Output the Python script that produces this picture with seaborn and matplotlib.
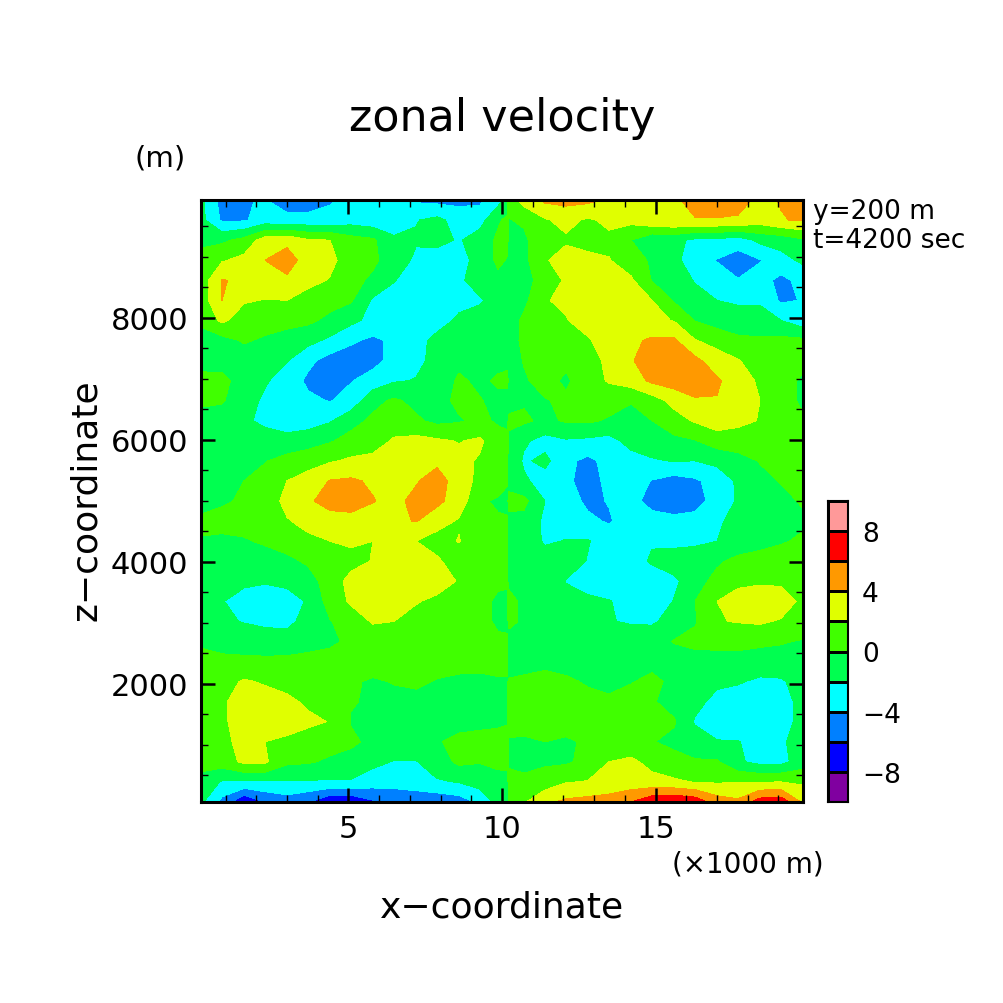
import numpy as np
import matplotlib
matplotlib.use("Agg")
import matplotlib.pyplot as plt
from matplotlib.colors import ListedColormap
import seaborn as sns

x_m = [200, 884, 1600, 2284, 2999, 3684, 4400, 5084, 5800, 6484, 7200, 7884, 8600, 9284, 9870, 10163,
       10228, 10716, 11400, 12084, 12800, 13484, 14200, 14884, 15600, 16284, 17000, 17684, 18400, 19084, 19800]
z_m = [9934, 9605, 9276, 8947, 8618, 8289, 7960, 7631, 7302, 6973, 6645, 6316, 5987, 5658, 5329, 5000,
       4671, 4342, 4013, 3684, 3355, 3026, 2697, 2368, 2040, 1711, 1382, 1053, 724, 395, 65]

# top row first
u = [
    [-1.5, -4.8, -4.1, -3.9, -5.0, -5.0, -4.2, -3.4, -3.2, -3.4, -4.3, -4.6, -4.6, -4.4, -2.8, -1.0, 0.8, 2.8, 4.4, 4.6, 4.5, 3.6, 3.0, 3.3, 3.7, 4.6, 4.8, 4.6, 3.6, 4.1, 4.8],
    [-1.4, -4.3, -4.2, -3.2, -3.4, -3.4, -3.4, -2.9, -3.3, -3.0, -2.1, -1.5, -2.8, -2.8, -0.2, 0.3, -0.1, 0.3, 1.8, 2.6, 1.7, 2.5, 2.6, 3.6, 3.9, 3.9, 3.9, 3.8, 3.0, 3.9, 4.2],
    [-0.4, -0.4, 0.6, 3.0, 3.4, 2.2, 2.0, 0.8, 0.3, -1.7, -1.8, -1.4, -2.2, -1.0, 0.3, 0.5, -0.4, -0.4, 1.6, 1.7, 0.8, 1.5, 0.0, -1.6, -1.5, -2.4, -2.5, -3.0, -1.5, -1.2, -0.3],
    [0.6, 1.8, 2.6, 4.0, 5.0, 3.0, 2.4, 1.2, 0.3, -0.8, -2.4, -3.0, -2.7, -1.3, 0.4, -0.1, -0.5, -0.5, 1.8, 2.9, 2.9, 2.1, 0.9, -0.3, -1.5, -3.0, -4.1, -5.0, -4.1, -2.7, -1.6],
    [0.8, 4.1, 3.7, 3.6, 3.6, 2.5, 1.9, 0.5, -0.3, -1.9, -3.0, -3.3, -2.3, -1.2, -0.5, -0.7, -0.8, -0.6, 0.7, 2.3, 3.0, 3.0, 2.3, -0.1, -1.2, -2.1, -3.0, -3.9, -3.3, -4.5, -3.4],
    [0.9, 4.0, 2.2, 1.9, 2.0, 1.3, 0.7, 0.2, -2.3, -2.8, -3.4, -3.2, -2.5, -2.2, -1.3, -1.2, -1.2, -0.5, 1.9, 2.3, 2.8, 3.0, 3.0, 2.0, -0.2, -1.5, -2.0, -2.2, -2.2, -4.3, -3.9],
    [0.4, 2.4, 1.0, 0.9, 0.6, 0.4, -0.5, -1.5, -2.6, -3.2, -3.2, -2.7, -1.7, -1.3, -1.1, -1.2, -1.0, 0.4, 0.7, 1.9, 2.8, 3.0, 3.2, 2.5, 1.9, -0.1, -0.9, -1.4, -1.4, -2.0, -3.3],
    [-0.8, -0.7, 0.2, -0.3, -0.8, -1.4, -2.4, -3.7, -4.4, -3.6, -2.6, -1.5, -1.0, -0.8, -0.6, -0.7, -0.6, 0.3, 0.6, 0.9, 1.8, 3.0, 3.6, 4.3, 4.3, 2.1, 1.3, 0.5, 0.3, 0.5, 0.4],
    [-0.5, -0.8, -1.0, -1.3, -1.9, -3.5, -4.8, -5.0, -4.6, -3.4, -2.5, -1.4, -0.5, -0.3, -0.6, -0.4, -0.8, 0.1, 0.6, 0.4, 1.3, 2.4, 3.9, 4.6, 5.0, 4.5, 2.9, 2.1, 1.2, 0.6, 0.5],
    [0.4, 0.5, -0.8, -1.8, -2.8, -4.4, -4.8, -4.1, -3.2, -2.2, -1.9, -1.3, 0.3, -0.4, 0.3, 0.4, -0.2, -0.2, 0.6, -0.3, 1.1, 2.2, 3.0, 4.4, 5.0, 5.0, 4.3, 2.9, 1.7, 0.8, -0.3],
    [0.3, 0.2, -1.3, -2.3, -3.1, -3.6, -4.1, -3.3, -0.6, 0.3, -0.5, -0.8, 0.5, 0.1, -0.5, -0.6, -0.6, -0.2, -0.1, 0.3, 1.0, 0.7, 0.1, 1.1, 2.6, 3.8, 3.9, 3.2, 2.0, 0.9, -0.4],
    [-0.6, -1.0, -1.7, -2.4, -3.2, -2.9, -2.2, -0.7, 0.4, 1.1, 0.3, -0.5, -0.2, 0.5, -0.3, -0.4, 0.3, 0.3, -0.4, 0.2, 0.3, -0.2, -0.5, 0.0, 1.2, 2.2, 3.0, 2.5, 1.9, 0.8, 0.3],
    [-0.7, -0.9, -1.1, -1.2, -1.2, -0.9, -0.2, 0.7, 1.2, 2.2, 2.6, 2.3, 1.9, 2.3, 0.9, 0.5, -0.3, -1.7, -2.7, -2.2, -2.4, -2.7, -1.3, -0.9, -0.5, -0.1, 1.0, 1.0, 0.9, 0.9, 0.7],
    [-0.8, -0.7, -0.5, -0.1, 0.6, 1.2, 1.8, 2.3, 2.5, 2.6, 2.9, 3.5, 2.5, 1.8, 1.9, 0.3, -0.4, -2.3, -1.5, -3.5, -4.5, -3.3, -2.8, -2.2, -1.9, -2.0, -1.5, -0.7, 0.1, 0.5, 0.8],
    [-0.7, -0.4, 0.0, 0.7, 2.0, 2.8, 4.1, 4.3, 3.7, 2.9, 3.8, 5.0, 2.9, 1.5, 2.0, 0.2, -0.7, -1.7, -2.8, -3.6, -4.8, -3.5, -3.0, -4.1, -4.8, -4.3, -3.2, -1.7, -0.5, 0.1, 0.8],
    [-0.6, -0.2, 0.2, 1.2, 2.4, 3.6, 5.0, 5.3, 4.1, 3.4, 4.6, 4.5, 3.0, 0.5, -0.5, -0.5, 0.6, 0.5, -2.0, -3.1, -4.4, -3.9, -3.2, -4.9, -5.3, -4.9, -3.1, -1.8, -0.7, -0.5, 0.2],
    [0.3, 0.5, 0.8, 1.3, 1.9, 2.4, 2.9, 3.0, 3.0, 3.6, 4.1, 2.8, 1.8, 1.0, 0.4, 0.2, -0.5, -0.6, -2.4, -3.0, -3.6, -4.2, -3.0, -3.0, -3.4, -3.2, -2.4, -1.2, -0.8, -0.6, -0.3],
    [-0.1, -0.3, -0.2, 0.3, 0.9, 1.7, 2.0, 2.3, 2.0, 2.3, 2.0, 1.2, 2.1, 0.4, 0.4, 0.2, -0.3, -0.6, -2.3, -1.9, -1.9, -2.8, -3.0, -2.2, -2.5, -2.4, -2.0, -1.2, -0.7, -0.2, 0.3],
    [-0.9, -1.1, -1.2, -1.0, -0.5, 0.3, 0.7, 1.4, 2.1, 2.9, 2.6, 2.3, 1.0, 0.5, 0.3, 0.2, -0.3, -0.5, -0.9, -1.1, -2.1, -2.9, -3.0, -1.7, -1.1, -0.9, -0.3, 0.5, 0.8, 1.0, 1.1],
    [-0.5, -1.2, -1.6, -1.8, -1.5, -0.9, 1.0, 2.6, 2.9, 3.2, 3.0, 3.2, 1.8, 0.3, 0.3, 0.2, -0.3, -0.3, -0.6, -2.1, -2.8, -3.4, -3.5, -3.3, -2.4, -0.8, 0.6, 1.5, 1.7, 1.6, 1.2],
    [-1.2, -1.9, -2.8, -3.2, -2.9, -1.8, 0.8, 2.3, 3.1, 3.3, 2.2, 1.4, 0.8, 0.5, -0.3, -0.3, 0.4, -0.3, -0.8, -1.2, -1.6, -1.9, -2.7, -3.5, -1.9, 0.0, 2.0, 2.9, 3.3, 3.1, 1.5],
    [-1.4, -1.7, -2.1, -2.4, -2.6, -1.2, -0.1, 0.9, 2.2, 2.0, 1.0, 0.8, 0.6, 0.4, -0.2, -0.3, 0.3, -0.2, -0.8, -1.0, -1.3, -1.9, -2.2, -2.3, -1.2, -0.2, 1.9, 2.1, 2.3, 1.8, 0.8],
    [-0.3, -0.8, -0.9, -1.1, -1.0, -0.6, -0.3, 0.3, 0.7, 0.7, 0.6, 0.5, 0.4, 0.3, 0.2, 0.2, -0.5, -0.6, -0.7, -0.8, -0.8, -0.8, -0.9, -0.7, 0.1, 0.6, 0.7, 0.6, 0.3, 0.1, -0.1],
    [0.6, 0.5, 0.4, 0.4, 0.4, 0.5, 0.6, 0.7, 0.8, 0.8, 0.7, 0.6, 0.5, 0.4, 0.3, 0.3, -0.5, -0.4, -0.4, -0.7, -0.8, -0.7, -0.5, -0.5, -0.9, -0.9, -0.9, -0.7, -0.7, -0.5, -0.4],
    [0.9, 1.3, 2.2, 1.8, 1.2, 1.0, 0.7, 0.2, -0.2, 0.1, 0.3, -0.1, -0.3, -0.3, -0.1, -0.1, 0.1, 0.2, 0.5, 0.3, -0.2, -0.5, -0.1, 0.4, -0.4, -1.2, -1.6, -1.8, -2.4, -2.3, -1.0],
    [1.0, 1.8, 2.6, 2.8, 2.5, 1.6, 0.9, 0.1, -0.2, -0.5, -0.5, -0.7, -0.7, -0.6, -0.5, -0.6, 1.0, 0.9, 0.8, 0.8, 0.5, 0.3, 0.7, 0.2, -0.8, -1.4, -2.6, -3.0, -3.2, -3.0, -1.2],
    [1.0, 1.7, 2.8, 3.0, 2.9, 2.5, 1.9, -0.1, -0.4, -0.6, -0.6, -0.6, -0.4, -0.3, -0.2, -0.1, 1.2, 1.0, 0.9, 0.9, 1.0, 1.0, 0.8, 0.3, 0.2, -2.2, -3.0, -3.4, -3.5, -3.0, -1.2],
    [0.9, 1.5, 2.6, 2.0, 1.6, 0.9, 0.7, 0.3, -0.4, -0.5, -0.6, -0.1, 0.3, 0.4, 0.4, 0.5, -0.3, -0.4, 0.0, -0.3, 0.3, 0.5, 0.7, 0.1, -0.5, -1.1, -1.9, -1.9, -2.9, -2.3, -1.1],
    [0.5, 1.0, 2.4, 2.3, 0.4, 0.2, -0.3, -0.6, -1.5, -2.1, -2.1, -1.0, 0.4, 0.1, 0.4, 0.3, -0.2, -0.4, -0.3, -0.3, 0.6, 2.0, 2.4, 1.4, 0.7, 0.2, 0.2, -1.7, -2.6, -2.6, -1.0],
    [-0.5, -2.2, -2.2, -2.2, -2.2, -2.2, -2.2, -2.2, -3.0, -3.1, -2.6, -2.2, -1.9, -1.1, -0.6, -0.4, 0.4, 0.3, 0.9, 1.9, 2.1, 2.6, 2.7, 2.6, 2.3, 1.9, 1.8, 1.9, 1.9, 2.0, 1.7],
    [-1.6, -4.6, -7.9, -5.9, -5.0, -5.9, -7.9, -7.9, -6.3, -5.8, -5.8, -5.5, -5.0, -3.6, -1.2, -0.6, 0.3, 1.8, 3.6, 4.4, 4.7, 4.9, 6.0, 7.5, 7.9, 7.3, 5.0, 4.4, 7.0, 7.3, 3.6],
]

levels = [-10, -8, -6, -4, -2, 0, 2, 4, 6, 8, 10]
band_colors = ["#8000a0", "#0000ff", "#0080ff", "#00ffff", "#00ff50",
               "#40ff00", "#e0ff00", "#ff9900", "#ff0000", "#ff9999"]
x_ticks = [5000, 10000, 15000]
x_ticklabels = ["5", "10", "15"]
z_ticks = [2000, 4000, 6000, 8000]
cbar_ticklabels = ["8", "4", "0", "\u22124", "\u22128"]

sns.set_style("ticks")
plt.rcParams["font.family"] = ["DejaVu Sans"]
plt.rcParams["text.color"] = "black"
plt.rcParams["xtick.labelcolor"] = "black"
plt.rcParams["ytick.labelcolor"] = "black"

palette = sns.color_palette(band_colors)
cmap = ListedColormap(palette)

fig = plt.figure(figsize=(10.04, 10.04), dpi=100)
ax = fig.add_axes([201 / 1004, 1 - 803 / 1004, 602 / 1004, 602 / 1004])
ax.contourf(x_m, z_m, np.array(u), levels=levels, colors=palette, antialiased=False)
ax.set_xlim(200, 19800)
ax.set_ylim(65, 9934)
ax.set_axisbelow(False)

ax.set_xticks(x_ticks)
ax.set_xticklabels(x_ticklabels)
ax.set_xticks(np.arange(1000, 20000, 1000), minor=True)
ax.set_yticks(z_ticks)
ax.set_yticks(np.arange(500, 10000, 500), minor=True)
ax.tick_params(which="major", direction="in", length=10, width=1.8, color="black",
               top=True, right=True, labelsize=22, pad=9)
ax.tick_params(which="minor", direction="in", length=5, width=1, color="black", top=True, right=True)
for spine in ax.spines.values():
    spine.set_linewidth(2.2)
    spine.set_color("black")

fig.text(502 / 1004, 1 - 118 / 1004, "zonal velocity", ha="center", va="center", fontsize=32)
fig.text(160 / 1004, 1 - 158 / 1004, "(m)", ha="center", va="center", fontsize=21)
fig.text(813 / 1004, 1 - 212 / 1004, "y=200 m", ha="left", va="center", fontsize=19)
fig.text(813 / 1004, 1 - 241 / 1004, "t=4200 sec", ha="left", va="center", fontsize=19)
fig.text(824 / 1004, 1 - 865 / 1004, "(\u00d71000 m)", ha="right", va="center", fontsize=20)
fig.text(502 / 1004, 1 - 908 / 1004, "x\u2212coordinate", ha="center", va="center", fontsize=26)
fig.text(86 / 1004, 1 - 500 / 1004, "z\u2212coordinate", ha="center", va="center", rotation=90, fontsize=26)

# colour key, pink on top
cax = fig.add_axes([828 / 1004, 1 - 803 / 1004, 20 / 1004, 301 / 1004])
band_mid = np.array(levels[:-1])[::-1].reshape(-1, 1) + 1
sns.heatmap(band_mid, ax=cax, cmap=cmap, vmin=-10, vmax=10, cbar=False,
            linewidths=1, linecolor="black", xticklabels=False)
cax.set_yticks([1, 3, 5, 7, 9])
cax.set_yticklabels(cbar_ticklabels, rotation=0)
cax.yaxis.tick_right()
cax.tick_params(axis="y", length=0, labelsize=19, pad=10)
for spine in cax.spines.values():
    spine.set_visible(True)
    spine.set_linewidth(1.5)
    spine.set_color("black")

fig.savefig("out.png", dpi=100)
plt.close(fig)
